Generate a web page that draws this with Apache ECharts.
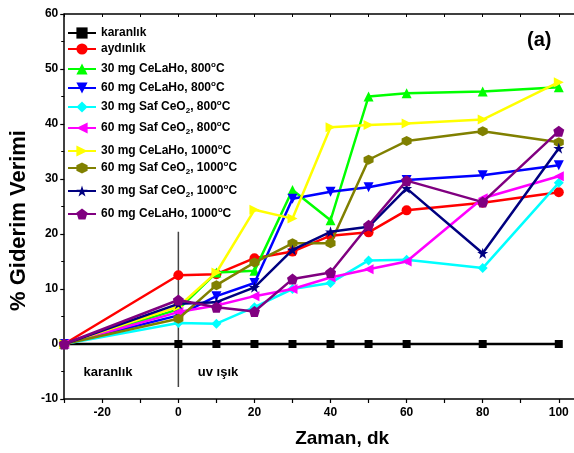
<!DOCTYPE html>
<html>
<head>
<meta charset="utf-8">
<script src="https://cdn.jsdelivr.net/npm/echarts@6/dist/echarts.min.js"></script>
<style>
  html, body { margin: 0; padding: 0; background: #fff; }
  #chart { width: 574px; height: 453px; }
</style>
</head>
<body>
<div id="chart"></div>
<script>
// Time points (minutes); -30 is the start of the dark period
const times = [-30, 0, 10, 20, 30, 40, 50, 60, 80, 100];

// Removal efficiency (%) for each sample
const karanlik      = [0, 0, 0, 0, 0, 0, 0, 0, 0, 0];
const aydinlik      = [0, 12.5, 12.7, 15.6, 16.8, 19.7, 20.3, 24.3, 25.7, 27.6];
const ceLaHo30_800  = [0, 6.3, 13.0, 13.3, 28.0, 22.5, 45.0, 45.6, 45.9, 46.7];
const ceLaHo60_800  = [0, 5.2, 8.7, 11.1, 26.4, 27.7, 28.5, 29.8, 30.7, 32.5];
const safCeO30_800  = [0, 3.8, 3.7, 6.7, 10.0, 11.1, 15.2, 15.3, 13.8, 29.3];
const safCeO60_800  = [0, 5.8, 7.0, 8.7, 10.0, 12.1, 13.6, 15.0, 26.5, 30.5];
const ceLaHo30_1000 = [0, 6.8, 13.0, 24.4, 22.8, 39.4, 39.8, 40.1, 40.8, 47.6];
const safCeO60_1000 = [0, 4.6, 10.7, 14.8, 18.3, 18.3, 33.5, 36.9, 38.7, 36.7];
const safCeO30_1000 = [0, 7.3, 7.6, 10.3, 17.1, 20.4, 21.3, 28.3, 16.5, 35.6];
const ceLaHo60_1000 = [0, 8.0, 6.7, 5.9, 11.8, 13.0, 21.6, 29.7, 25.8, 38.7];

// Boundary between dark and UV periods (x = 0)
const boundaryX = [0, 0];
const boundaryY = [-7.8, 20.4];

const seriesNames = [
  'karanlık', 'aydınlık',
  '30 mg CeLaHo, 800°C', '60 mg CeLaHo, 800°C',
  '30 mg Saf CeO2, 800°C', '60 mg Saf CeO2, 800°C',
  '30 mg CeLaHo, 1000°C', '60 mg Saf CeO2, 1000°C',
  '30 mg Saf CeO2, 1000°C', '60 mg CeLaHo, 1000°C'
];
const legendLabels = [
  'karanlık', 'aydınlık',
  '30 mg CeLaHo, 800{sup|o}C', '60 mg CeLaHo, 800{sup|o}C',
  '30 mg Saf CeO{sub|2}, 800{sup|o}C', '60 mg Saf CeO{sub|2}, 800{sup|o}C',
  '30 mg CeLaHo, 1000{sup|o}C', '60 mg Saf CeO{sub|2}, 1000{sup|o}C',
  '30 mg Saf CeO{sub|2}, 1000{sup|o}C', '60 mg CeLaHo, 1000{sup|o}C'
];
const seriesValues = [
  karanlik, aydinlik, ceLaHo30_800, ceLaHo60_800, safCeO30_800,
  safCeO60_800, ceLaHo30_1000, safCeO60_1000, safCeO30_1000, ceLaHo60_1000
];

const colors = ['#000000', '#ff0000', '#00ff00', '#0000ff', '#00ffff',
                '#ff00ff', '#ffff00', '#808000', '#000080', '#800080'];
const HEX = 'path://M50,0 L93.3,25 L93.3,75 L50,100 L6.7,75 L6.7,25Z';
const PENT = 'path://M50,0 L97.6,34.5 L79.4,90.5 L20.6,90.5 L2.4,34.5Z';
const STAR = 'path://M50,0 L61.8,35.3 L98.9,35.3 L68.8,57.1 L80.3,92.7 L50,70.6 L19.7,92.7 L31.2,57.1 L1.1,35.3 L38.2,35.3Z';
const symbols = ['rect', 'circle', 'triangle', 'triangle', 'diamond',
                 'triangle', 'triangle', HEX, STAR, PENT];
const rotations = [0, 0, 0, 180, 0, 90, -90, 0, 0, 0];
const sizes = [8, 10, 10, 10, 10, 10, 10, 10, 11, 11];
const legendCenters = [29, 45, 63, 82, 101, 122, 145, 162, 185, 208];

const FONT = 'Liberation Sans';
const labelMap = {};
seriesNames.forEach((n, i) => { labelMap[n] = legendLabels[i]; });

const chart = echarts.init(document.getElementById('chart'), null, { renderer: 'canvas' });

const series = seriesNames.map((name, i) => ({
  name: name,
  type: 'line',
  data: times.map((t, k) => [t, seriesValues[i][k]]),
  symbol: symbols[i],
  symbolRotate: rotations[i],
  symbolSize: sizes[i],
  showAllSymbol: true,
  color: colors[i],
  lineStyle: { width: 2.5, color: colors[i] },
  itemStyle: { color: colors[i] },
  z: 3 + i,
  animation: false
}));

series.unshift({
  name: 'ayrım',
  type: 'line',
  data: boundaryX.map((x, k) => [x, boundaryY[k]]),
  symbol: 'none',
  lineStyle: { width: 1.5, color: '#444' },
  z: 2,
  animation: false,
  silent: true
});

const legends = seriesNames.map((name, i) => ({
  data: [name],
  left: 62,
  top: legendCenters[i] - 7,
  itemWidth: 28,
  itemHeight: 14,
  itemGap: 0,
  selectedMode: false,
  formatter: n => labelMap[n],
  textStyle: {
    fontFamily: FONT, fontWeight: 'bold', fontSize: 12, color: '#000',
    rich: {
      sub: { fontFamily: FONT, fontWeight: 'bold', fontSize: 8, color: '#000', padding: [8, 0, 0, 0] },
      sup: { fontFamily: FONT, fontWeight: 'bold', fontSize: 8, color: '#000', padding: [0, 0, 8, 0] }
    }
  }
}));

chart.setOption({
  animation: false,
  backgroundColor: '#fff',
  grid: { left: 61, right: 0, top: 14, bottom: 53, containLabel: false },
  legend: legends,
  xAxis: [{
    type: 'value', min: -30, max: 104, interval: 10,
    name: 'Zaman, dk', nameLocation: 'middle', nameGap: 30,
    nameTextStyle: { fontFamily: FONT, fontWeight: 'bold', fontSize: 19, color: '#000', padding: [0, 0, 0, 46] },
    axisLine: { onZero: false, lineStyle: { color: '#000', width: 1.5 } },
    axisTick: { show: true, length: 4, lineStyle: { color: '#000', width: 1.2 } },
    axisLabel: {
      fontFamily: FONT, fontWeight: 'bold', fontSize: 12, color: '#000', margin: 8,
      showMaxLabel: false,
      formatter: v => (Math.round(v) % 20 === 0 && v > -30) ? String(v) : ''
    },
    splitLine: { show: false }
  }, {
    type: 'value', position: 'top', min: -30, max: 104, interval: 10,
    axisLine: { onZero: false, lineStyle: { color: '#000', width: 1.5 } },
    axisTick: { show: true, inside: true, length: 3, lineStyle: { color: '#000', width: 1 } },
    axisLabel: { show: false },
    splitLine: { show: false }
  }],
  yAxis: {
    type: 'value', min: -10, max: 60, interval: 10,
    name: '% Giderim Verimi', nameLocation: 'middle', nameGap: 31,
    nameTextStyle: { fontFamily: FONT, fontWeight: 'bold', fontSize: 22, color: '#000', padding: [0, 28, 0, 0] },
    axisLine: { show: true, onZero: false, lineStyle: { color: '#000', width: 1.5 } },
    axisTick: { show: true, length: 4, lineStyle: { color: '#000', width: 1.2 } },
    minorTick: { show: true, splitNumber: 2, length: 3, lineStyle: { color: '#000', width: 1 } },
    axisLabel: { fontFamily: FONT, fontWeight: 'bold', fontSize: 12, color: '#000', margin: 6 },
    splitLine: { show: false }
  },
  graphic: [
    { type: 'text', left: 527, top: 30,
      style: { text: '(a)', font: 'bold 20px "Liberation Sans"', fill: '#000' } },
    { type: 'text', x: 108, y: 372,
      style: { text: 'karanlık', font: 'bold 13px "Liberation Sans"', fill: '#000', align: 'center', verticalAlign: 'middle' } },
    { type: 'text', x: 218, y: 372,
      style: { text: 'uv ışık', font: 'bold 13px "Liberation Sans"', fill: '#000', align: 'center', verticalAlign: 'middle' } }
  ],
  series: series
});
</script>
</body>
</html>
